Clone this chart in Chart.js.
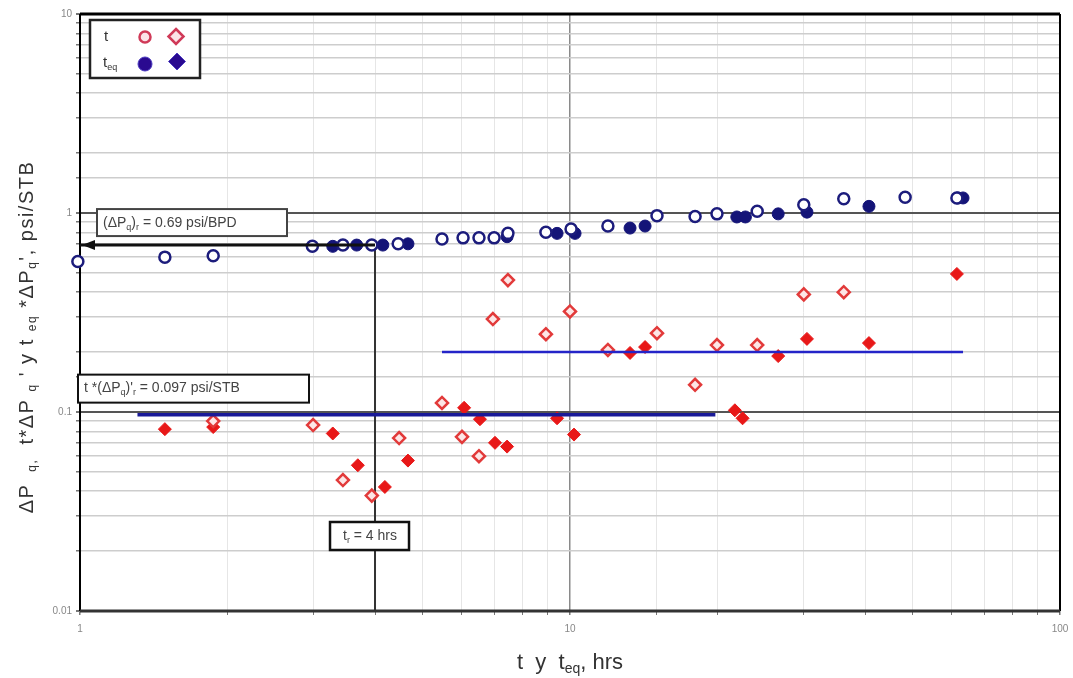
<!DOCTYPE html>
<html>
<head>
<meta charset="utf-8">
<script src="https://cdn.jsdelivr.net/npm/chart.js@4.4.1/dist/chart.umd.min.js"></script>
<style>
html, body { margin: 0; padding: 0; background: #fff; }
</style>
</head>
<body>
<canvas id="chart" width="1073" height="678"></canvas>
<script>
// ΔPq vs t (open circles)
const tPress = [0.99, 1.49, 1.87, 2.98, 3.44, 3.94, 4.46, 5.48, 6.05, 6.52, 7.0, 7.47, 8.93, 10.05, 11.95, 15.05, 18.0, 19.95, 24.1, 30.0, 36.2, 48.3, 61.6];
const dpPress = [0.57, 0.60, 0.61, 0.68, 0.69, 0.69, 0.70, 0.74, 0.75, 0.75, 0.75, 0.79, 0.80, 0.83, 0.86, 0.97, 0.96, 0.99, 1.02, 1.10, 1.18, 1.20, 1.19];
// ΔPq vs teq (filled circles)
const teqPress = [3.28, 3.67, 4.15, 4.67, 7.44, 9.41, 10.24, 13.26, 14.23, 21.9, 22.8, 26.6, 30.45, 40.75, 61.9, 63.4];
const dpEqPress = [0.68, 0.69, 0.69, 0.70, 0.76, 0.79, 0.79, 0.84, 0.86, 0.955, 0.955, 0.99, 1.01, 1.08, 1.19, 1.19];
// t*ΔPq' vs t (open diamonds)
const tDeriv = [1.87, 2.99, 3.44, 3.94, 4.48, 5.48, 6.02, 6.52, 6.96, 7.47, 8.93, 10.0, 11.95, 15.05, 18.0, 19.95, 24.1, 30.0, 36.2];
const derivT = [0.090, 0.086, 0.0455, 0.038, 0.074, 0.111, 0.075, 0.060, 0.293, 0.46, 0.246, 0.32, 0.205, 0.249, 0.137, 0.217, 0.217, 0.39, 0.40];
// teq*ΔPq' vs teq (filled diamonds)
const teqDeriv = [1.49, 1.87, 3.28, 3.69, 4.19, 4.67, 6.08, 6.55, 7.03, 7.44, 9.41, 10.19, 13.26, 14.23, 21.7, 22.5, 26.6, 30.45, 40.75, 61.6];
const derivTeq = [0.082, 0.084, 0.078, 0.054, 0.042, 0.057, 0.105, 0.092, 0.070, 0.067, 0.093, 0.077, 0.198, 0.212, 0.102, 0.093, 0.191, 0.233, 0.222, 0.494];

// reference lines
const dpRadial = 0.69;        // (ΔPq)r
const derivRadial = 0.097;    // t*(ΔPq)'r
const derivUpper = 0.2;
const tRadial = 4;            // tr
const lowLineT = [1.31, 19.8];
const upLineT = [5.48, 63.4];
const arrowLineT = [1, 4];

const xTicks = [1, 10, 100];
const yTicks = [0.01, 0.1, 1, 10];

const FONT = 'Liberation Sans, Arial, sans-serif';

function zip(xs, ys) {
    return xs.map((x, i) => ({ x: x, y: ys[i] }));
}
function isMajor(v) {
    const l = Math.log10(v);
    return Math.abs(l - Math.round(l)) < 1e-6;
}

// draws text with subscripts; parts = [[text, isSub], ...]
function richWidth(ctx, parts, size) {
    let w = 0;
    parts.forEach(p => {
        ctx.font = (p[1] ? Math.round(size * 0.62) : size) + 'px ' + FONT;
        w += ctx.measureText(p[0]).width;
    });
    return w;
}
function drawRich(ctx, parts, x, y, size, color, align) {
    const w = richWidth(ctx, parts, size);
    let cx = align === 'center' ? x - w / 2 : x;
    ctx.textBaseline = 'middle';
    ctx.textAlign = 'left';
    ctx.fillStyle = color;
    parts.forEach(p => {
        ctx.font = (p[1] ? Math.round(size * 0.62) : size) + 'px ' + FONT;
        ctx.fillText(p[0], cx, p[1] ? y + size * 0.3 : y);
        cx += ctx.measureText(p[0]).width;
    });
}
function box(ctx, x, y, w, h, lw, color) {
    ctx.fillStyle = '#fff';
    ctx.fillRect(x, y, w, h);
    ctx.lineWidth = lw;
    ctx.strokeStyle = color;
    ctx.strokeRect(x, y, w, h);
}

const framePlugin = {
    id: 'frame',
    beforeDatasetsDraw(chart) {
        const ctx = chart.ctx;
        const a = chart.chartArea;
        ctx.save();
        ctx.strokeStyle = '#000';
        ctx.lineWidth = 2;
        ctx.beginPath();
        ctx.moveTo(a.left, a.top); ctx.lineTo(a.left, a.bottom);
        ctx.moveTo(a.right, a.top); ctx.lineTo(a.right, a.bottom);
        ctx.stroke();
        ctx.lineWidth = 3;
        ctx.beginPath();
        ctx.moveTo(a.left, a.top); ctx.lineTo(a.right, a.top);
        ctx.stroke();
        ctx.strokeStyle = '#333';
        ctx.beginPath();
        ctx.moveTo(a.left, a.bottom); ctx.lineTo(a.right, a.bottom);
        ctx.stroke();
        ctx.restore();
    }
};

const notesPlugin = {
    id: 'notes',
    afterDraw(chart) {
        const ctx = chart.ctx;
        const a = chart.chartArea;
        const xs = chart.scales.x, ys = chart.scales.y;
        ctx.save();

        // arrow head on the (ΔPq)r line
        const ay = ys.getPixelForValue(dpRadial);
        const ax = xs.getPixelForValue(arrowLineT[0]) + 2;
        ctx.fillStyle = '#111';
        ctx.beginPath();
        ctx.moveTo(ax, ay);
        ctx.lineTo(ax + 13, ay - 5);
        ctx.lineTo(ax + 13, ay + 5);
        ctx.closePath();
        ctx.fill();

        // (ΔPq)r box
        box(ctx, a.left + 17, ay - 36, 190, 27, 2, '#444');
        drawRich(ctx, [['(ΔP', 0], ['q', 1], [')', 0], ['r', 1], [' = 0.69 psi/BPD', 0]],
            a.left + 23, ay - 22, 14, '#444', 'left');

        // t*(ΔPq)'r box
        const by = ys.getPixelForValue(derivRadial);
        box(ctx, a.left - 2, by - 40, 231, 28, 2, '#111');
        drawRich(ctx, [['t *(ΔP', 0], ['q', 1], [')\'', 0], ['r', 1], [' = 0.097 psi/STB', 0]],
            a.left + 4, by - 26, 14, '#444', 'left');

        // tr box
        const tx = xs.getPixelForValue(tRadial);
        box(ctx, tx - 45, a.bottom - 89, 79, 28, 2.5, '#111');
        drawRich(ctx, [['t', 0], ['r', 1], [' = 4 hrs', 0]], tx - 5, a.bottom - 75, 14, '#444', 'center');

        // legend
        box(ctx, a.left + 10, a.top + 6, 110, 58, 2.5, '#222');
        drawRich(ctx, [['t', 0]], a.left + 24, a.top + 23, 15, '#333', 'left');
        drawRich(ctx, [['t', 0], ['eq', 1]], a.left + 23, a.top + 49, 15, '#333', 'left');
        const lx1 = a.left + 65, lx2 = a.left + 96;
        ctx.lineWidth = 2.5;
        ctx.strokeStyle = '#d03a58';
        ctx.fillStyle = '#fbe3e8';
        ctx.beginPath(); ctx.arc(lx1, a.top + 23, 5.5, 0, Math.PI * 2); ctx.fill(); ctx.stroke();
        ctx.beginPath();
        ctx.moveTo(lx2, a.top + 15); ctx.lineTo(lx2 + 7.5, a.top + 22.5);
        ctx.lineTo(lx2, a.top + 30); ctx.lineTo(lx2 - 7.5, a.top + 22.5);
        ctx.closePath(); ctx.fill(); ctx.stroke();
        ctx.fillStyle = '#2a0a90';
        ctx.strokeStyle = '#4a3ac0';
        ctx.lineWidth = 1;
        ctx.beginPath(); ctx.arc(lx1, a.top + 50, 7, 0, Math.PI * 2); ctx.fill(); ctx.stroke();
        ctx.beginPath();
        ctx.moveTo(lx2 + 1, a.top + 39); ctx.lineTo(lx2 + 9.5, a.top + 47.5);
        ctx.lineTo(lx2 + 1, a.top + 56); ctx.lineTo(lx2 - 7.5, a.top + 47.5);
        ctx.closePath(); ctx.fill(); ctx.stroke();

        // axis titles
        drawRich(ctx, [['t  y  t', 0], ['eq', 1], [', hrs', 0]], (a.left + a.right) / 2, 663, 22, '#333', 'center');
        ctx.translate(27, 337);
        ctx.rotate(-Math.PI / 2);
        ctx.letterSpacing = '1.5px';
        drawRich(ctx, [['ΔP ', 0], [' q,', 1], ['  t*ΔP ', 0], ['q', 1], [' \' y t ', 0], ['eq', 1], [' *ΔP', 0], ['q', 1], ['\', psi/STB', 0]],
            0, 0, 20, '#333', 'center');
        ctx.restore();
    }
};

const ctx = document.getElementById('chart');
new Chart(ctx, {
    type: 'scatter',
    data: {
        datasets: [
            {
                type: 'line', label: 'low', order: 0,
                data: zip(lowLineT, [derivRadial, derivRadial]),
                borderColor: '#1a1a98', borderWidth: 3.5, pointRadius: 0, showLine: true
            },
            {
                type: 'line', label: 'up', order: 0,
                data: zip(upLineT, [derivUpper, derivUpper]),
                borderColor: '#2424c8', borderWidth: 2.5, pointRadius: 0, showLine: true
            },
            {
                type: 'line', label: 'dpr', order: 0,
                data: zip(arrowLineT, [dpRadial, dpRadial]),
                borderColor: '#111', borderWidth: 3, pointRadius: 0, showLine: true
            },
            {
                type: 'line', label: 'tr', order: 3,
                data: zip([tRadial, tRadial], [dpRadial, 0.01]),
                borderColor: '#333', borderWidth: 2, pointRadius: 0, showLine: true
            },
            {
                label: 't dp', order: 1, clip: false,
                data: zip(tPress, dpPress),
                pointStyle: 'circle', pointRadius: 5.5, borderWidth: 2.5,
                borderColor: '#1c1c7c', backgroundColor: '#fff'
            },
            {
                label: 'teq dp', order: 1, clip: false,
                data: zip(teqPress, dpEqPress),
                pointStyle: 'circle', pointRadius: 6, borderWidth: 1,
                borderColor: '#141478', backgroundColor: '#141478'
            },
            {
                label: 't deriv', order: 2, clip: false,
                data: zip(tDeriv, derivT),
                pointStyle: 'rectRot', pointRadius: 6, borderWidth: 2.5,
                borderColor: '#e23a3a', backgroundColor: '#fde6e6'
            },
            {
                label: 'teq deriv', order: 2, clip: false,
                data: zip(teqDeriv, derivTeq),
                pointStyle: 'rectRot', pointRadius: 6.5, borderWidth: 1,
                borderColor: '#e81818', backgroundColor: '#e81818'
            }
        ]
    },
    options: {
        responsive: false,
        animation: false,
        layout: { padding: { top: 14, right: 13, left: 0, bottom: 0 } },
        plugins: {
            legend: { display: false },
            tooltip: { enabled: false }
        },
        scales: {
            x: {
                type: 'logarithmic', min: 1, max: 100,
                afterFit(s) { s.height = 67; s.paddingLeft = 0; s.paddingRight = 0; },
                border: { display: false },
                grid: {
                    color: c => (c.tick && isMajor(c.tick.value)) ? '#8a8a8a' : '#e6e6e6',
                    lineWidth: c => (c.tick && isMajor(c.tick.value)) ? 1.5 : 1,
                    tickColor: '#777', tickLength: 4
                },
                ticks: {
                    autoSkip: false, maxRotation: 0, padding: 8,
                    color: '#888', font: { family: FONT, size: 10 },
                    callback: v => xTicks.includes(v) ? String(v) : ''
                }
            },
            y: {
                type: 'logarithmic', min: 0.01, max: 10,
                afterFit(s) { s.width = 80; },
                border: { display: false },
                grid: {
                    color: c => (c.tick && isMajor(c.tick.value)) ? '#555' : '#cdcdcd',
                    lineWidth: c => (c.tick && isMajor(c.tick.value)) ? 2 : 1.5,
                    tickColor: '#777', tickLength: 4
                },
                ticks: {
                    autoSkip: false, padding: 4,
                    color: '#888', font: { family: FONT, size: 10 },
                    callback: v => yTicks.some(t => Math.abs(t - v) < 1e-9) ? String(v) : ''
                }
            }
        }
    },
    plugins: [framePlugin, notesPlugin]
});
</script>
</body>
</html>
